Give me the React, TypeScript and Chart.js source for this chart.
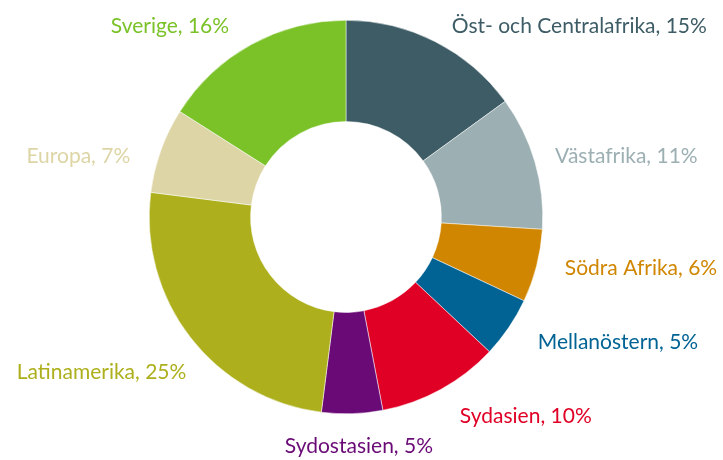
import React, { useEffect, useRef } from "react";
import { Chart, registerables } from "chart.js";

Chart.register(...registerables);

const categories = [
  "Öst- och Centralafrika",
  "Västafrika",
  "Södra Afrika",
  "Mellanöstern",
  "Sydasien",
  "Sydostasien",
  "Latinamerika",
  "Europa",
  "Sverige",
];
const shares = [15, 11, 6, 5, 10, 5, 25, 7, 16];
const colors = [
  "#3d5c65",
  "#9cafb3",
  "#d08600",
  "#006394",
  "#e00025",
  "#6a0a76",
  "#adb01c",
  "#ddd5a5",
  "#7ac228",
];
// label nudges (dx, dy) relative to an anchor placed just outside each slice
const labelNudges: [number, number][] = [
  [6, 5],
  [-2, 1],
  [6, -3],
  [10, 2],
  [8, 7],
  [6, 10],
  [14, 21],
  [-9, 14],
  [-11, 2],
];

const outsideLabels = {
  id: "outsideLabels",
  afterDatasetsDraw(chart: any) {
    const ctx = chart.ctx;
    const meta = chart.getDatasetMeta(0);
    const data = chart.data.datasets[0].data as number[];
    ctx.save();
    ctx.font = '21px "Lato", sans-serif';
    ctx.textBaseline = "middle";
    meta.data.forEach((arc: any, i: number) => {
      const { x, y, startAngle, endAngle, outerRadius } = arc.getProps(
        ["x", "y", "startAngle", "endAngle", "outerRadius"],
        true
      );
      const mid = (startAngle + endAngle) / 2;
      const r = outerRadius + 23;
      const ax = x + Math.cos(mid) * r + labelNudges[i][0];
      const ay = y + Math.sin(mid) * r + labelNudges[i][1];
      const c = Math.cos(mid);
      ctx.textAlign = Math.abs(c) < 0.1 ? "center" : c > 0 ? "left" : "right";
      ctx.fillStyle = colors[i];
      ctx.fillText(`${chart.data.labels[i]}, ${data[i]}%`, ax, ay);
    });
    ctx.restore();
  },
};

export default function App() {
  const ref = useRef<HTMLCanvasElement>(null);
  useEffect(() => {
    document.body.style.margin = "0";
    const chart = new Chart(ref.current!, {
      type: "doughnut",
      data: {
        labels: categories,
        datasets: [
          {
            data: shares,
            backgroundColor: colors,
            borderColor: "#ffffff",
            borderWidth: 0.5,
          },
        ],
      },
      options: {
        animation: false,
        responsive: false,
        cutout: "48.5%",
        layout: { padding: { left: 149, right: 180, top: 20, bottom: 46 } },
        plugins: {
          legend: { display: false },
          tooltip: { enabled: false },
        },
      },
      plugins: [outsideLabels],
    });
    return () => chart.destroy();
  }, []);
  return (
    <div style={{ width: 723, height: 460 }}>
      <canvas ref={ref} width={723} height={460} style={{ display: "block" }} />
    </div>
  );
}
